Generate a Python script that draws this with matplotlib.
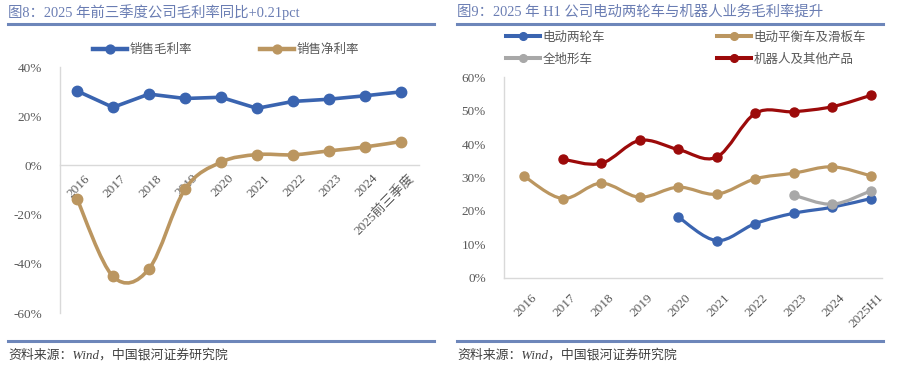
import matplotlib
matplotlib.use("Agg")
import matplotlib.pyplot as plt
import matplotlib.transforms as mtransforms
from matplotlib.lines import Line2D
from matplotlib.path import Path
from matplotlib.patches import PathPatch
import numpy as np

plt.rcParams["font.family"] = ["Liberation Serif", "Noto Sans CJK SC", "DejaVu Sans"]

# ---- 图8 数据 ----
years_l = ["2016", "2017", "2018", "2019", "2020", "2021", "2022", "2023", "2024", "2025前三季度"]
gross_margin = [30.3, 23.6, 29.0, 27.2, 27.7, 23.2, 26.0, 26.9, 28.3, 29.9]
net_margin = [-13.5, -45.1, -42.1, -9.7, 1.3, 4.4, 4.3, 5.9, 7.5, 9.7]

# ---- 图9 数据 ----
years_r = ["2016", "2017", "2018", "2019", "2020", "2021", "2022", "2023", "2024", "2025H1"]
two_wheel = [None, None, None, None, 18.2, 11.1, 16.2, 19.3, 21.1, 23.7]
balance = [30.4, 23.7, 28.3, 24.1, 27.1, 25.0, 29.6, 31.3, 33.2, 30.5]
atv = [None, None, None, None, None, None, None, 24.7, 22.0, 26.0]
robot = [None, 35.5, 34.2, 41.1, 38.4, 36.1, 49.2, 49.7, 51.2, 54.6]

BLUE = "#3a64b0"
TAN = "#bb9660"
GRAY = "#a8a8a8"
RED = "#9c0a0a"
TXT = "#595959"
TITLE_C = "#6a7db3"
RULE_C = "#6d86ba"


def smooth_path(xs, ys):
    """Excel 风格平滑线：Catmull-Rom 转三次贝塞尔。"""
    pts = np.column_stack([xs, ys]).astype(float)
    n = len(pts)
    verts = [pts[0]]
    codes = [Path.MOVETO]
    for i in range(n - 1):
        p0 = pts[i - 1] if i > 0 else pts[i]
        p1 = pts[i]
        p2 = pts[i + 1]
        p3 = pts[i + 2] if i + 2 < n else pts[i + 1]
        c1 = p1 + (p2 - p0) / 6.0
        c2 = p2 - (p3 - p1) / 6.0
        verts += [c1, c2, p2]
        codes += [Path.CURVE4] * 3
    return Path(verts, codes)


def draw_series(ax, vals, color, lw, ms, smooth=True):
    idx = [i for i, v in enumerate(vals) if v is not None]
    ys = [vals[i] for i in idx]
    if smooth:
        ax.add_patch(PathPatch(smooth_path(idx, ys), fill=False, edgecolor=color,
                               lw=lw, capstyle="round", joinstyle="round", zorder=3))
    else:
        ax.plot(idx, ys, color=color, lw=lw, solid_joinstyle="round", zorder=3)
    ax.plot(idx, ys, ls="none", marker="o", ms=ms, color=color, zorder=4)
    return Line2D([], [], color=color, lw=lw + 0.6, marker="o", ms=ms * 0.85)


def style_axes(ax):
    for s in ["top", "right"]:
        ax.spines[s].set_visible(False)
    for s in ["left", "bottom"]:
        ax.spines[s].set_color("#d9d9d9")
        ax.spines[s].set_linewidth(1.0)
    ax.tick_params(length=0, colors=TXT, labelsize=9.5)
    ax.yaxis.set_major_formatter(matplotlib.ticker.FuncFormatter(lambda v, p: f"{v:.0f}%"))


fig = plt.figure(figsize=(8.99, 3.78), dpi=100)
W, H = 899.0, 378.0


def fig_rect(x0, y0, x1, y1):
    return [x0 / W, 1 - y1 / H, (x1 - x0) / W, (y1 - y0) / H]


# ---------- 左图 ----------
axl = fig.add_axes(fig_rect(60, 67, 419, 313))
style_axes(axl)
axl.set_ylim(-60, 40)
axl.set_yticks(np.arange(-60, 41, 20))
axl.set_xlim(-0.47, 9.5)
axl.spines["bottom"].set_position(("data", 0))
axl.set_xticks(range(len(years_l)))
axl.set_xticklabels(years_l, rotation=45, ha="right", va="top", rotation_mode="anchor")
axl.tick_params(axis="y", pad=13)
axl.tick_params(axis="x", pad=5)
off = mtransforms.ScaledTranslation(5 / 72, 0, fig.dpi_scale_trans)
for lab in axl.get_xticklabels():
    lab.set_transform(lab.get_transform() + off)

h1 = draw_series(axl, gross_margin, BLUE, 2.6, 7.5, smooth=False)
h2 = draw_series(axl, net_margin, TAN, 2.6, 7.5, smooth=True)
axl.legend([h1, h2], ["销售毛利率", "销售净利率"], loc="center left",
           bbox_to_anchor=(93 / W, 1 - 50 / H), bbox_transform=fig.transFigure,
           ncol=2, frameon=False, fontsize=9, handlelength=2.7, handletextpad=0.25,
           columnspacing=5.4, borderaxespad=0, borderpad=0, labelcolor=TXT)

# ---------- 右图 ----------
axr = fig.add_axes(fig_rect(504, 77.3, 882, 277.7))
style_axes(axr)
axr.set_ylim(0, 60)
axr.set_yticks(np.arange(0, 61, 10))
axr.set_xlim(-0.52, 9.29)
axr.set_xticks(range(len(years_r)))
axr.set_xticklabels(years_r, rotation=45, ha="right", va="top", rotation_mode="anchor")
axr.tick_params(axis="y", pad=13)
axr.tick_params(axis="x", pad=10)
for lab in axr.get_xticklabels():
    lab.set_transform(lab.get_transform() + off)

g1 = draw_series(axr, two_wheel, BLUE, 2.3, 6.5)
g2 = draw_series(axr, balance, TAN, 2.3, 6.5)
g3 = draw_series(axr, atv, GRAY, 2.3, 6.5)
g4 = draw_series(axr, robot, RED, 2.3, 6.5)
axr.legend([g1, g3, g2, g4], ["电动两轮车", "全地形车", "电动平衡车及滑板车", "机器人及其他产品"],
           loc="upper left", bbox_to_anchor=(506 / W, 1 - 31.5 / H), bbox_transform=fig.transFigure,
           ncol=2, frameon=False, fontsize=9, handlelength=2.7, handletextpad=0.2,
           columnspacing=9.0, labelspacing=0.8, borderaxespad=0, borderpad=0, labelcolor=TXT)

# ---------- 标题、分隔线、来源 ----------
for x0, x1, title in [(8, 434, "图8：2025 年前三季度公司毛利率同比+0.21pct"),
                      (457, 883, "图9：2025 年 H1 公司电动两轮车与机器人业务毛利率提升")]:
    fig.text(x0 / W, 1 - 12 / H, title, fontsize=10.4, color=TITLE_C, va="center", ha="left")
    fig.add_artist(Line2D([x0 / W, x1 / W], [1 - 23.5 / H] * 2, color=RULE_C, lw=2.2))
    fig.add_artist(Line2D([x0 / W, x1 / W], [1 - 341 / H] * 2, color=RULE_C, lw=2.2))
    fig.text(x0 / W, 1 - 355 / H, "资料来源：Wind，中国银河证券研究院", fontsize=9.3,
             color="#404040", style="italic", va="center", ha="left")

fig.savefig("out.png", dpi=100)
